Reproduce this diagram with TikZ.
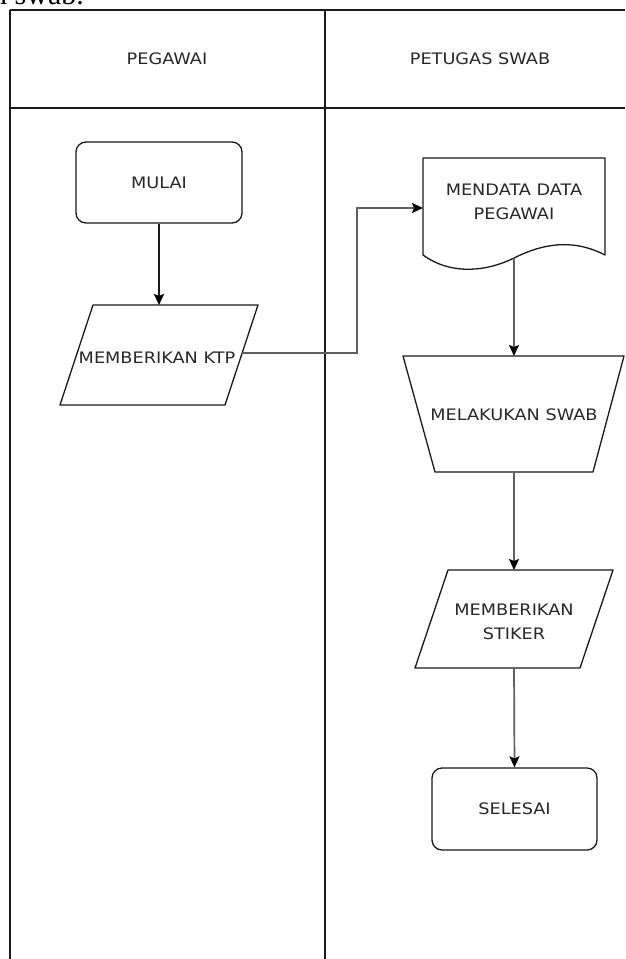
\documentclass[tikz,border=0pt]{standalone}
\usepackage{fontspec}
\newfontfamily\dfont{DejaVu Sans}[FakeStretch=1.12]
\newfontfamily\serfont{Liberation Serif}
\usetikzlibrary{arrows.meta,calc}
\definecolor{txt}{RGB}{40,40,40}
\definecolor{edge}{RGB}{95,95,95}
\definecolor{ink}{RGB}{25,25,25}
\begin{document}
\begin{tikzpicture}[x=1pt,y=-1pt,
  lane/.style={line width=1.5pt, draw=ink},
  shp/.style={line width=1.3pt, draw=ink, line join=round},
  lbl/.style={font=\dfont\fontsize{15.8}{24}\selectfont, text=txt, align=center, inner sep=0pt},
  term/.style={lbl, shp, rounded corners=10pt},
  flow/.style={draw=edge, line width=1.7pt, -{Stealth[length=11pt,width=10pt,inset=2pt,color=black]}},
  flowdark/.style={draw=ink, line width=2.3pt, -{Stealth[length=11pt,width=10pt,inset=2pt,color=black]}},
]
\useasboundingbox (0,0) rectangle (625,959);
\fill[white] (0,0) rectangle (625,959);
% fragment of text above the diagram
\begin{scope}
  \clip (0,0) rectangle (625,959);
  \node[font=\serfont\fontsize{30}{32}\selectfont, anchor=base west, inner sep=0pt] (frag) at (-8,4) {n swab.};
\end{scope}
% swimlanes
\draw[lane] (10,10) -- (625,10);
\draw[lane] (10,108) -- (625,108);
\draw[lane] (10,10) -- (10,959);
\draw[lane] (325,10) -- (325,959);
\node[lbl] (h1) at (167,59) {PEGAWAI};
\node[lbl] (h2) at (480,59) {PETUGAS SWAB};
% MULAI
\node[term, minimum width=166pt, minimum height=81pt] (mulai) at (159,182.5) {MULAI};
% MEMBERIKAN KTP
\draw[shp] (60,405) -- (93,305) -- (258,305) -- (225,405) -- cycle;
\node[lbl] (ktp) at (157,358) {MEMBERIKAN KTP};
\coordinate (ktpN) at (159,305);
\coordinate (ktpE) at (242,353);
% MENDATA DATA PEGAWAI (document)
\draw[shp] (423,255) -- (423,158) -- (605,158) -- (605,255)
  .. controls (572,238) and (542,244) .. (514,258)
  .. controls (488,271) and (452,276) .. (423,255);
\node[lbl] (doc) at (514,202) {MENDATA DATA\\PEGAWAI};
\coordinate (docW) at (423,208);
\coordinate (docS) at (514,258);
% MELAKUKAN SWAB (trapezoid)
\draw[shp] (403,356) -- (624,356) -- (593,472) -- (435,472) -- cycle;
\node[lbl] (swab) at (514,415) {MELAKUKAN SWAB};
\coordinate (swabN) at (514,356);
\coordinate (swabS) at (514,472);
% MEMBERIKAN STIKER
\draw[shp] (415,668) -- (448,570) -- (613,570) -- (580,668) -- cycle;
\node[lbl] (stiker) at (514,622) {MEMBERIKAN\\STIKER};
\coordinate (stikerN) at (514,570);
\coordinate (stikerS) at (514,668);
% SELESAI
\node[term, minimum width=165pt, minimum height=82pt] (selesai) at (514.5,809) {SELESAI};
% connectors
\draw[flowdark] (mulai.south) -- (ktpN);
\draw[flow] (ktpE) -- (357,353) |- (docW);
\draw[flow] (docS) -- (swabN);
\draw[flow] (swabS) -- (stikerN);
\draw[flow] (stikerS) -- (selesai.north);
\end{tikzpicture}
\end{document}
